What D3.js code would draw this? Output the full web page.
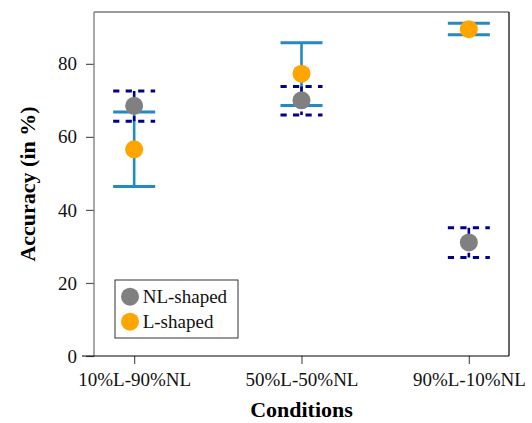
<!DOCTYPE html>
<html>
<head>
<meta charset="utf-8">
<script src="https://cdn.jsdelivr.net/npm/d3@7"></script>
<style>
  body { margin: 0; background: #fff; }
  svg text { font-family: "Liberation Serif", "Times New Roman", Tinos, "DejaVu Serif", "Noto Serif", serif !important; }
</style>
</head>
<body>
<div id="main"></div>
<script>
const conditions = ["10%L-90%NL", "50%L-50%NL", "90%L-10%NL"];

// NL-shaped (grey points, dashed navy error bars)
const nlMean = [68.5, 70.0, 31.1];
const nlLow  = [64.3, 66.0, 27.0];
const nlHigh = [72.6, 73.8, 35.1];

// L-shaped (orange points, solid blue error bars)
const lMean = [56.6, 77.3, 89.5];
const lLow  = [46.4, 68.6, 88.0];
const lHigh = [66.8, 85.8, 91.1];

const yTicks = [0, 20, 40, 60, 80];
const legendLabels = ["NL-shaped", "L-shaped"];

const SERIF = '"Liberation Serif", "Times New Roman", Tinos, "DejaVu Serif", serif';

class ErrorPlot {
  constructor(config) {
    this.config = config;
    this.svg = null;
    this.margins = null;
    this.xScale = null;
    this.yScale = null;
    this.createSvg();
    this.createMargins();
  }

  createSvg() {
    this.svg = d3.select(this.config.div)
      .append("svg")
      .attr("width", 532)
      .attr("height", 423)
      .attr("font-family", SERIF);
  }

  createMargins() {
    this.margins = this.svg.append("g")
      .attr("transform", `translate(${this.config.left},${this.config.top})`);
  }

  createScales() {
    this.xScale = d3.scalePoint().domain(conditions).range([0, this.config.width]).padding(0.24);
    this.yScale = d3.scaleLinear().domain([0, 94.2]).range([this.config.height, 0]);
  }

  createAxis() {
    const w = this.config.width, h = this.config.height;
    let yAxis = d3.axisLeft(this.yScale).tickValues(yTicks).tickSize(8).tickPadding(9);
    let xAxis = d3.axisBottom(this.xScale).tickSize(8).tickPadding(9);

    let gy = this.margins.append("g").call(yAxis);
    let gx = this.margins.append("g").attr("transform", `translate(0,${h})`).call(xAxis);
    [gy, gx].forEach(g => {
      g.attr("font-family", SERIF).attr("font-size", 19);
      g.select(".domain").remove();
      g.selectAll("line").attr("stroke", "#555").attr("stroke-width", 1.2);
      g.selectAll("text").attr("fill", "#111");
    });

    // frame: grey left/top, black right/bottom
    this.margins.append("line").attr("x1", 0).attr("x2", 0).attr("y1", 0).attr("y2", h)
      .attr("stroke", "#7a7a7a").attr("stroke-width", 1.3);
    this.margins.append("line").attr("x1", 0).attr("x2", w).attr("y1", 0).attr("y2", 0)
      .attr("stroke", "#7a7a7a").attr("stroke-width", 1.3);
    this.margins.append("line").attr("x1", w).attr("x2", w).attr("y1", 0).attr("y2", h)
      .attr("stroke", "#000").attr("stroke-width", 1.2);
    this.margins.append("line").attr("x1", -12).attr("x2", w).attr("y1", h).attr("y2", h)
      .attr("stroke", "#000").attr("stroke-width", 1.2);

    this.svg.append("text")
      .attr("transform", `translate(27,${this.config.top + h / 2}) rotate(-90)`)
      .attr("text-anchor", "middle")
      .attr("dominant-baseline", "central")
      .attr("font-weight", "bold")
      .attr("font-size", 22)
      .text("Accuracy (in %)");

    this.svg.append("text")
      .attr("x", this.config.left + w / 2)
      .attr("y", 417)
      .attr("text-anchor", "middle")
      .attr("font-weight", "bold")
      .attr("font-size", 22)
      .text("Conditions");
  }

  drawErrors(low, high, color, dash) {
    const cap = 21;
    const g = this.margins.append("g")
      .attr("stroke", color)
      .attr("stroke-width", 3)
      .attr("fill", "none")
      .attr("stroke-dasharray", dash);
    conditions.forEach((c, i) => {
      const x = this.xScale(c);
      g.append("line").attr("x1", x).attr("x2", x)
        .attr("y1", this.yScale(high[i])).attr("y2", this.yScale(low[i]))
        .attr("stroke-width", 2.6);
      [low[i], high[i]].forEach(v => {
        g.append("line").attr("x1", x - cap).attr("x2", x + cap)
          .attr("y1", this.yScale(v)).attr("y2", this.yScale(v));
      });
    });
  }

  drawPoints(vals, color) {
    this.margins.append("g").selectAll("circle")
      .data(vals)
      .join("circle")
      .attr("cx", (d, i) => this.xScale(conditions[i]))
      .attr("cy", d => this.yScale(d))
      .attr("r", 9)
      .attr("fill", color);
  }

  render() {
    this.drawErrors(lLow, lHigh, "#2589c2", null);
    this.drawErrors(nlLow, nlHigh, "#00008b", "6.2,6.3");
    this.drawPoints(nlMean, "#808080");
    this.drawPoints(lMean, "#ffa500");
  }

  createLegend() {
    const lg = this.svg.append("g").attr("transform", "translate(115,280)");
    lg.append("rect").attr("width", 123).attr("height", 58)
      .attr("fill", "#fff").attr("stroke", "#333").attr("stroke-width", 1);
    const colors = ["#808080", "#ffa500"];
    legendLabels.forEach((t, i) => {
      lg.append("circle").attr("cx", 15).attr("cy", 16.7 + i * 25).attr("r", 9).attr("fill", colors[i]);
      lg.append("text").attr("x", 27.7).attr("y", 16.7 + i * 25 + 6)
        .attr("font-size", 19).attr("fill", "#111").text(t);
    });
  }
}

function main() {
  let c = { div: "#main", width: 415, height: 344, top: 12, left: 94 };
  let app = new ErrorPlot(c);
  app.createScales();
  app.createAxis();
  app.render();
  app.createLegend();
}

main();
</script>
</body>
</html>
